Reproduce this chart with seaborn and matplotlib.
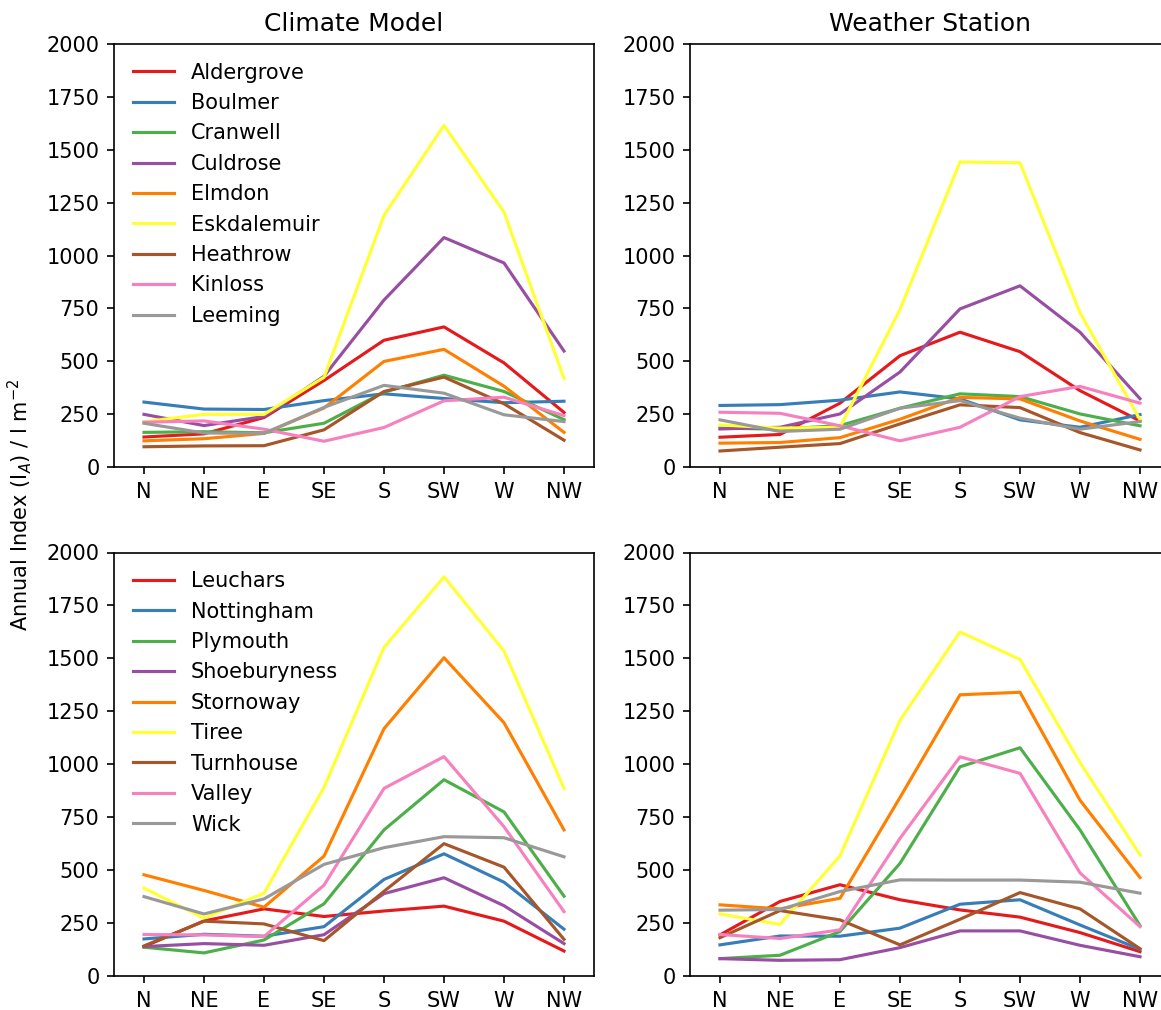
import numpy as np
import pandas as pd
import matplotlib
matplotlib.use("Agg")
import matplotlib.pyplot as plt
import seaborn as sns

directions = ["N", "NE", "E", "SE", "S", "SW", "W", "NW"]

stations_a = ["Aldergrove", "Boulmer", "Cranwell", "Culdrose", "Elmdon",
              "Eskdalemuir", "Heathrow", "Kinloss", "Leeming"]
stations_b = ["Leuchars", "Nottingham", "Plymouth", "Shoeburyness", "Stornoway",
              "Tiree", "Turnhouse", "Valley", "Wick"]

# Climate model, first group of stations
model_aldergrove = [143, 158, 235, 410, 600, 663, 493, 259]
model_boulmer = [308, 275, 273, 315, 347, 325, 305, 312]
model_cranwell = [165, 168, 163, 208, 355, 435, 358, 225]
model_culdrose = [250, 197, 240, 430, 790, 1085, 965, 549]
model_elmdon = [125, 135, 160, 280, 500, 557, 383, 165]
model_eskdalemuir = [215, 250, 250, 425, 1190, 1615, 1205, 420]
model_heathrow = [97, 101, 102, 177, 358, 426, 300, 128]
model_kinloss = [213, 219, 180, 123, 188, 314, 331, 244]
model_leeming = [208, 162, 160, 283, 387, 350, 248, 216]

# Weather station, first group of stations
obs_aldergrove = [142, 155, 303, 527, 638, 546, 362, 219]
obs_boulmer = [292, 296, 317, 356, 323, 224, 189, 249]
obs_cranwell = [185, 180, 197, 279, 347, 334, 252, 196]
obs_culdrose = [181, 189, 252, 450, 748, 857, 638, 324]
obs_elmdon = [114, 117, 140, 227, 330, 323, 219, 132]
obs_eskdalemuir = [200, 185, 189, 745, 1442, 1438, 730, 225]
obs_heathrow = [77, 95, 112, 205, 295, 282, 164, 82]
obs_kinloss = [260, 255, 196, 125, 189, 334, 382, 303]
obs_leeming = [224, 169, 180, 279, 315, 232, 180, 216]

# Climate model, second group of stations
model_leuchars = [139, 260, 317, 281, 307, 330, 259, 118]
model_nottingham = [175, 197, 188, 233, 456, 577, 443, 221]
model_plymouth = [136, 109, 170, 341, 690, 927, 775, 377]
model_shoeburyness = [139, 153, 145, 195, 389, 464, 332, 153]
model_stornoway = [478, 404, 325, 566, 1168, 1503, 1196, 690]
model_tiree = [415, 273, 391, 891, 1552, 1885, 1535, 886]
model_turnhouse = [142, 259, 246, 167, 400, 625, 514, 173]
model_valley = [196, 194, 186, 429, 886, 1036, 705, 304]
model_wick = [375, 293, 364, 527, 606, 658, 653, 563]

# Weather station, second group of stations
obs_leuchars = [194, 352, 431, 360, 312, 278, 205, 115]
obs_nottingham = [147, 189, 188, 226, 339, 360, 241, 126]
obs_plymouth = [82, 98, 210, 532, 988, 1078, 690, 238]
obs_shoeburyness = [82, 74, 77, 134, 213, 213, 145, 91]
obs_stornoway = [336, 317, 367, 843, 1328, 1340, 830, 465]
obs_tiree = [293, 244, 568, 1208, 1625, 1495, 1008, 572]
obs_turnhouse = [181, 309, 265, 147, 268, 394, 317, 129]
obs_valley = [196, 177, 218, 650, 1035, 957, 487, 233]
obs_wick = [311, 314, 399, 454, 453, 453, 443, 391]

panels = [
    ("Climate Model", stations_a,
     [model_aldergrove, model_boulmer, model_cranwell, model_culdrose, model_elmdon,
      model_eskdalemuir, model_heathrow, model_kinloss, model_leeming], True),
    ("Weather Station", stations_a,
     [obs_aldergrove, obs_boulmer, obs_cranwell, obs_culdrose, obs_elmdon,
      obs_eskdalemuir, obs_heathrow, obs_kinloss, obs_leeming], False),
    (None, stations_b,
     [model_leuchars, model_nottingham, model_plymouth, model_shoeburyness, model_stornoway,
      model_tiree, model_turnhouse, model_valley, model_wick], True),
    (None, stations_b,
     [obs_leuchars, obs_nottingham, obs_plymouth, obs_shoeburyness, obs_stornoway,
      obs_tiree, obs_turnhouse, obs_valley, obs_wick], False),
]


def to_frame(names, series):
    rows = []
    for name, vals in zip(names, series):
        for d, v in zip(directions, vals):
            rows.append({"Direction": d, "Station": name, "Index": v})
    return pd.DataFrame(rows)


W, H, DPI = 1161, 1010, 150
fig = plt.figure(figsize=(W / DPI, H / DPI), dpi=DPI)

ax_w = 480 / W
ax_h = 423.5 / H
lefts = [114 / W, 690 / W]
bottoms = [1 - 467.3 / H, 1 - 976 / H]
positions = [
    (lefts[0], bottoms[0]), (lefts[1], bottoms[0]),
    (lefts[0], bottoms[1]), (lefts[1], bottoms[1]),
]

palette = sns.color_palette("Set1", 9)

for (title, names, series, show_legend), (x0, y0) in zip(panels, positions):
    ax = fig.add_axes([x0, y0, ax_w, ax_h])
    df = to_frame(names, series)
    sns.lineplot(data=df, x="Direction", y="Index", hue="Station",
                 hue_order=names, palette=palette, sort=False,
                 estimator=None, linewidth=1.5, ax=ax, legend=show_legend)
    ax.set_xlim(-0.5, 7.5)
    ax.set_ylim(0, 2000)
    ax.set_yticks(np.arange(0, 2001, 250))
    ax.set_xticks(range(len(directions)))
    ax.set_xticklabels(directions)
    ax.set_xlabel("")
    ax.set_ylabel("")
    ax.tick_params(labelsize=10)
    if title:
        ax.set_title(title, fontsize=12)
    if show_legend:
        handles, labels = ax.get_legend_handles_labels()
        ax.legend(handles, labels, loc="upper left", frameon=False, fontsize=10)

fig.text(20 / W, 0.5, r"Annual Index (I$_A$) / l m$^{-2}$",
         rotation=90, va="center", ha="center", fontsize=10)

fig.savefig("out.png", dpi=DPI)
